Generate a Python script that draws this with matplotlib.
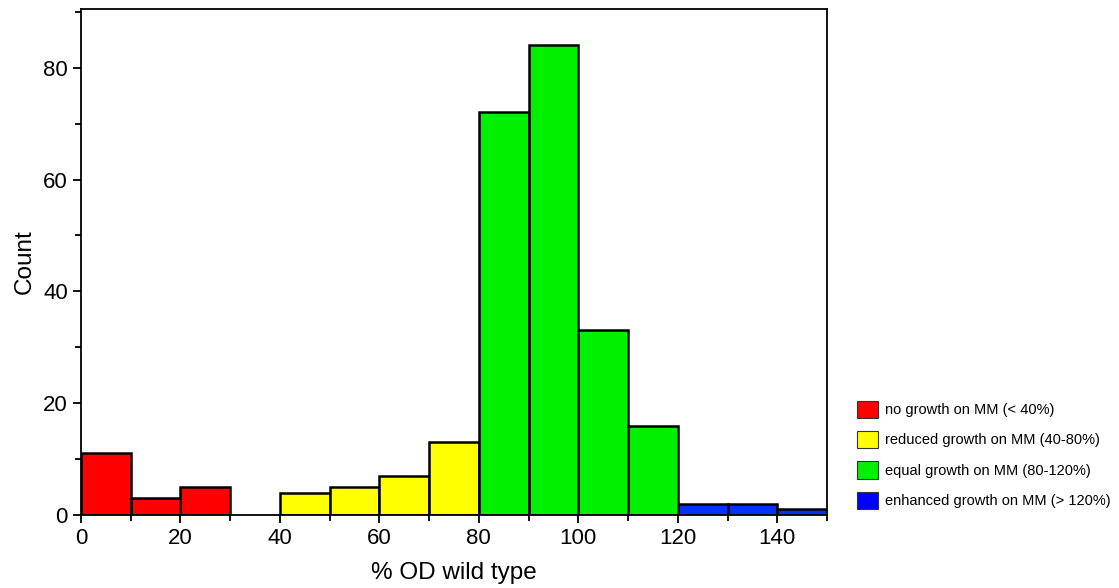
import matplotlib
matplotlib.use("Agg")
import matplotlib.pyplot as plt
from matplotlib.patches import Patch
from matplotlib.ticker import MultipleLocator

plt.rcParams['font.family'] = ['Liberation Sans', 'DejaVu Sans']

bin_edges = [0, 10, 20, 30, 40, 50, 60, 70, 80, 90, 100, 110, 120, 130, 140, 150]
counts = [11, 3, 5, 0, 4, 5, 7, 13, 72, 84, 33, 16, 2, 2, 1]
groups = ["no", "no", "no", "no", "red", "red", "red", "red",
          "eq", "eq", "eq", "eq", "enh", "enh", "enh"]
group_colors = {"no": "#FF0000", "red": "#FFFF00", "eq": "#00F000", "enh": "#0033FF"}
legend_labels = ["no growth on MM (< 40%)", "reduced growth on MM (40-80%)",
                 "equal growth on MM (80-120%)", "enhanced growth on MM (> 120%)"]
legend_colors = ["#FF0000", "#FFFF00", "#00F000", "#0000FF"]

fig = plt.figure(figsize=(11.19, 5.88), dpi=100)
ax = fig.add_axes([81/1119, 1-515/588, (827-81)/1119, (515-9)/588])

lefts = bin_edges[:-1]
widths = [b - a for a, b in zip(bin_edges[:-1], bin_edges[1:])]
for x, w, c, g in zip(lefts, widths, counts, groups):
    if c > 0:
        ax.bar(x, c, width=w, align='edge', color=group_colors[g],
               edgecolor='black', linewidth=1.8, zorder=2)

ax.set_xlim(0, 150)
ax.set_ylim(0, 90.5)
ax.xaxis.set_major_locator(MultipleLocator(20))
ax.xaxis.set_minor_locator(MultipleLocator(10))
ax.yaxis.set_major_locator(MultipleLocator(20))
ax.yaxis.set_minor_locator(MultipleLocator(10))
ax.tick_params(which='both', direction='out', top=False, right=False, width=1.3)
ax.tick_params(which='major', length=6, labelsize=16)
ax.tick_params(which='minor', length=4)
for s in ax.spines.values():
    s.set_linewidth(1.3)

ax.set_xlabel("% OD wild type", fontsize=17.5, labelpad=9)
ax.set_ylabel("Count", fontsize=17.5, labelpad=5)

handles = [Patch(facecolor=c, edgecolor='#333333', linewidth=0.8) for c in legend_colors]
fig.legend(handles, legend_labels, loc='lower left',
           bbox_to_anchor=(851/1119, 1-515/588), frameon=False, fontsize=10.5,
           handlelength=1.45, handleheight=1.45, handletextpad=0.45, labelspacing=0.9,
           borderaxespad=0)

fig.savefig("out.png", dpi=100)
